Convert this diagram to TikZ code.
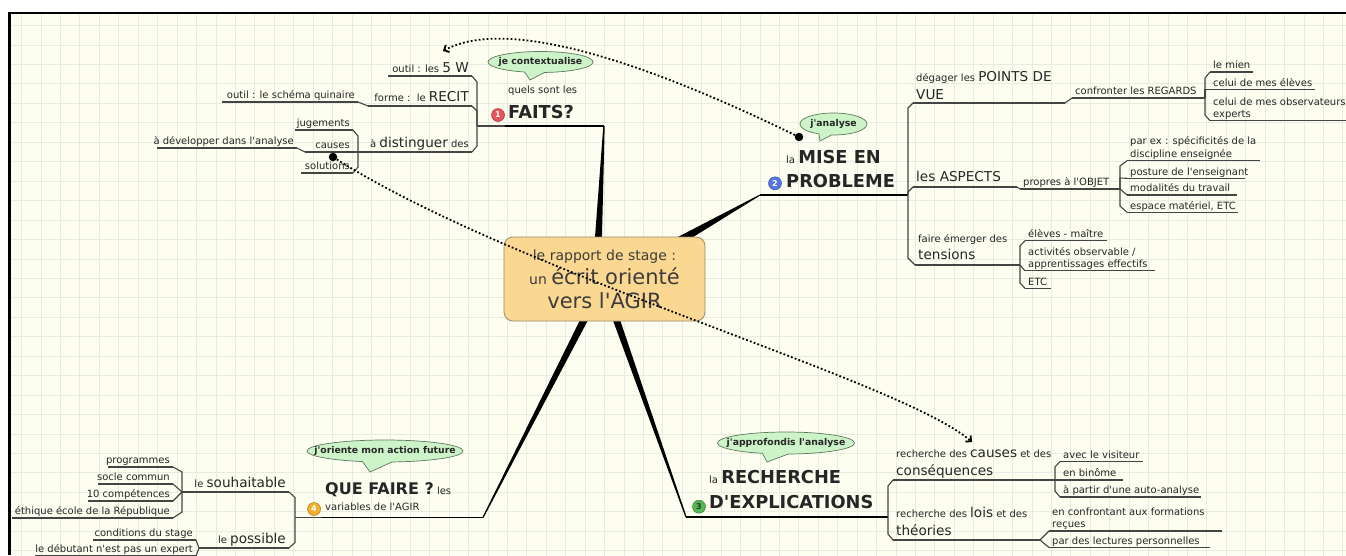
\documentclass[tikz,border=0pt]{standalone}
\usepackage{fontspec}
\newfontfamily\mapfont{DejaVu Sans}
\usetikzlibrary{arrows.meta,calc,positioning,shapes.callouts}

\definecolor{paper}{HTML}{FDFDF0}
\definecolor{gridc}{HTML}{E6ECDF}
\definecolor{ink}{HTML}{262626}
\definecolor{linec}{HTML}{444444}
\definecolor{hubfill}{HTML}{FBD892}
\definecolor{hubline}{HTML}{9C8A6A}
\definecolor{bubfill}{HTML}{CDF3C8}
\definecolor{bubline}{HTML}{5E7A5E}
\definecolor{badgered}{HTML}{E8545A}
\definecolor{badgeblue}{HTML}{5676E0}
\definecolor{badgegreen}{HTML}{52B852}
\definecolor{badgeorange}{HTML}{F4AE2A}

\newcommand\mmfont[2]{\mapfont\fontsize{#1}{#2}\selectfont}
\newcommand\szm{\fontsize{13.6}{17}\selectfont}
\newcommand\szl{\fontsize{17.8}{24}\selectfont\bfseries}
\newcommand\szh{\fontsize{21}{24}\selectfont}
\newcommand\ulgap[1]{\vrule width 0pt height 0pt depth #1pt\relax}

\tikzset{
  gridline/.style={draw=gridc, line width=1pt},
  sub/.style={inner xsep=3pt, inner ysep=0pt, text=ink, font=\mmfont{10}{12}, text depth=3pt},
  subr/.style={sub, anchor=south east},
  subl/.style={sub, anchor=south west},
  subm/.style={inner xsep=3pt, inner ysep=0pt, text=ink, font=\mmfont{10}{12.3}, align=left, anchor=south west},
  uline/.style={draw=linec, line width=1.1pt},
  link/.style={draw=linec, line width=1.1pt},
  topicline/.style={draw=black, line width=1.3pt},
  wedge/.style={fill=black},
  hub/.style={rounded corners=9pt, draw=hubline, fill=hubfill, line width=0.8pt,
    minimum width=201pt, minimum height=84pt, inner sep=0pt, align=center,
    text=ink!90, font=\mmfont{14}{24}},
  bubble/.style={ellipse callout, draw=bubline, fill=bubfill, line width=0.7pt,
    inner sep=0pt, minimum height=21pt, callout pointer arc=22,
    font=\mmfont{9.3}{11}\bfseries, text=ink},
  badge/.style={circle, inner sep=0pt, minimum size=13pt, line width=0.5pt, font=\mmfont{8}{9}\bfseries},
  dotmark/.style={circle, fill=black, inner sep=0pt, minimum size=8.5pt},
  rel/.style={line width=1.8pt, dash pattern=on 1.8pt off 2.2pt,
    -{Straight Barb[length=4pt,width=8pt]}},
}

\begin{document}
\begin{tikzpicture}[x=1pt,y=-1pt]
\useasboundingbox (0,0) rectangle (1346,555);
\clip (0,0) rectangle (1346,555);

% paper and grid
\fill[white] (0,0) rectangle (1346,555);
\fill[paper] (9.5,12.8) rectangle (1346,555);
\foreach \i in {0,...,68}
  \draw[gridline] ({21.7+19.43*\i},12.8) -- ++(0,543);
\foreach \j in {0,...,27}
  \draw[gridline] (9.5,{25.6+19.45*\j}) -- ++(1337,0);
\draw[line width=2.4pt] (9.5,555) -- (9.5,12.8) -- (1346,12.8);

% topics
\node[subm, font=\mmfont{10}{25}] (f1) at (505,126) {quels sont les\\{\szl FAITS?}\ulgap{7.5}};
\node[subm, font=\mmfont{10}{24}] (p2) at (783,195) {la {\szl MISE EN}\\{\szl PROBLEME}\ulgap{7}};
\node[subm, font=\mmfont{10}{25}] (r3) at (706,517) {la {\szl RECHERCHE}\\{\szl D'EXPLICATIONS}\ulgap{8}};
\node[subm, font=\mmfont{10}{15.5}] (q4) at (322,517.5) {{\fontsize{16}{18}\selectfont\bfseries QUE FAIRE ?} les\\variables de l'AGIR\ulgap{7}};

% branch 1
\node[subr] (w5) at (472,76) {outil : les {\szm 5 W}};
\node[subr, text depth=4pt] (recit) at (472,106) {forme :~~le {\szm RECIT}};
\node[subr] (quin) at (358,102) {outil : le schéma quinaire};
\node[subr, text depth=4pt] (dist) at (472,152) {à {\szm distinguer} des};
\node[subr] (jug) at (353,130) {jugements};
\node[subr] (cau) at (353,152) {causes};
\node[subr] (sol) at (353,173) {solutions};
\node[subr] (dev) at (297,148) {à développer dans l'analyse};

% branch 2
\node[subm, font=\mmfont{10}{17.6}] (pdv) at (913,103) {dégager les {\szm POINTS DE}\\{\szm VUE}\ulgap{3.4}};
\node[subl, text depth=5pt, font=\mmfont{13.6}{17}] (asp) at (913,187) {les ASPECTS};
\node[subm, font=\mmfont{10}{17}] (ten) at (915,265) {faire émerger des\\{\szm tensions}\ulgap{5}};
\node[subl] (regards) at (1072,98) {confronter les REGARDS};
\node[subl] (mien) at (1210,72) {le mien};
\node[subl] (eleves) at (1210,89.5) {celui de mes élèves};
\node[subm] (expe) at (1210,120.7) {celui de mes observateurs\\experts\ulgap{3}};
\node[subl] (objet) at (1020,189) {propres à l'OBJET};
\node[subm] (spec) at (1127,160.7) {par ex : spécificités de la\\discipline enseignée\ulgap{3.5}};
\node[subl] (post) at (1127,178.3) {posture de l'enseignant};
\node[subl] (moda) at (1127,195) {modalités du travail};
\node[subl] (espa) at (1127,212.3) {espace matériel, ETC};
\node[subl] (elev) at (1025,240.7) {élèves - maître};
\node[subm] (acti) at (1025,270.7) {activités observable /\\apprentissages effectifs\ulgap{3}};
\node[subl] (etc2) at (1025,288.3) {ETC};

% branch 3
\node[subm, font=\mmfont{10}{18}] (caus) at (893,480) {recherche des {\szm causes} et des\\{\szm conséquences}\ulgap{4}};
\node[subm, font=\mmfont{10}{18}] (lois) at (893,540) {recherche des {\szm lois} et des\\{\szm théories}\ulgap{4}};
\node[subl] (visit) at (1060,461.5) {avec le visiteur};
\node[subl] (bino) at (1060,480) {en binôme};
\node[subl] (auto) at (1060,497) {à partir d'une auto-analyse};
\node[subm] (conf) at (1049,531) {en confrontant aux formations\\reçues\ulgap{3}};
\node[subl] (lect) at (1049,547.5) {par des lectures personnelles};

% branch 4
\node[subr, text depth=4pt] (souh) at (289,492) {le {\szm souhaitable}};
\node[subr, text depth=4pt] (poss) at (289,548) {le {\szm possible}};
\node[subr] (prog) at (173,467) {programmes};
\node[subr] (socle) at (173,484) {socle commun};
\node[subr] (comp) at (173,501) {10 compétences};
\node[subr] (ethi) at (173,518) {éthique école de la République};
\node[subr] (cond) at (196,540) {conditions du stage};
\node[subr] (debu) at (196,556) {le débutant n'est pas un expert};

% underlines
\foreach \n/\l in {w5/84,recit/104,quin/136,dist/114,jug/58,cau/48,sol/52,dev/140,
    souh/107,poss/90,prog/65,socle/75,comp/85,ethi/161,cond/103,debu/161}
  \draw[uline] (\n.south east) -- ++(-\l,0) coordinate (\n-w);
\foreach \n/\l in {pdv/152,asp/104,ten/105,regards/133,mien/43,eleves/105,expe/140,
    objet/100,spec/133,post/118,moda/110,espa/111,elev/82,acti/130,etc2/26,
    caus/162,lois/147,visit/83,bino/63,auto/141,conf/173,lect/161}
  \draw[uline] (\n.south west) -- ++(\l,0) coordinate (\n-e);
\foreach \n/\l in {f1/99,p2/125,r3/182,q4/161}
  \draw[topicline] (\n.south west) -- ++(\l,0) coordinate (\n-e);

% wedges from the centre
\coordinate (hc) at (604.5,279);
\coordinate (w2) at (760,195);
\coordinate (w3) at (686,517);
\draw[topicline] (w2) -- (p2.south west);
\draw[topicline] (w3) -- (r3.south west);
\fill[wedge] ($(f1-e)+(-0.7,0)$) -- ($(f1-e)+(0.7,0)$) -- ($(hc)+(-3.6,0)$) -- ($(hc)+(-12.6,0)$) -- cycle;
\fill[wedge] ($(w2)+(0.25,0.43)$) -- ($(w2)+(-0.25,-0.43)$) -- ($(hc)+(4,-6.1)$) -- ($(hc)+(11,6.1)$) -- cycle;
\fill[wedge] ($(w3)+(0.57,-0.2)$) -- ($(w3)+(-0.57,0.2)$) -- ($(hc)+(-6.3,1.3)$) -- ($(hc)+(1.3,-1.3)$) -- cycle;
\fill[wedge] ($(q4-e)+(0.53,0.27)$) -- ($(q4-e)+(-0.53,-0.27)$) -- ($(hc)+(-3.24,-1.91)$) -- ($(hc)+(4.24,1.91)$) -- cycle;

\node[hub] (ctr) at (hc) {le rapport de stage :\\un {\szh écrit orienté}\\{\szh vers l'AGIR}};

% branch 1 links
\draw[link] (f1.south west) -- ++(-28,0) coordinate (k1);
\draw[link] (k1) -- ++(0,-44) -- (w5.south east);
\draw[link] (k1) -- ++(0,-15) -- (recit.south east);
\draw[link] (k1) -- ++(0,20) -- (dist.south east);
\draw[link] (recit-w) -- (quin.south east);
\draw[link] (dist-w) -- ++(0,-16) -- (jug.south east);
\draw[link] (dist-w) -- (cau.south east);
\draw[link] (dist-w) -- ++(0,15) -- (sol.south east);
\draw[link] (cau-w) -- (dev.south east);

% branch 2 links
\draw[link] (p2-e) -- ++(0,-87) -- (pdv.south west);
\draw[link] (p2-e) -- ++(0,-3) -- (asp.south west);
\draw[link] (p2-e) -- ++(0,63) -- (ten.south west);
\draw[link] (pdv-e) -- (regards.south west);
\draw[link] (regards-e) -- ++(0,-20) -- (mien.south west);
\draw[link] (regards-e) -- ++(0,-8.5) -- (eleves.south west);
\draw[link] (regards-e) -- ++(0,17) -- (expe.south west);
\draw[link] (asp-e) -- (objet.south west);
\draw[link] (objet-e) -- ++(0,-23) -- (spec.south west);
\draw[link] (objet-e) -- ++(0,-11) -- (post.south west);
\draw[link] (objet-e) -- (moda.south west);
\draw[link] (objet-e) -- ++(0,17) -- (espa.south west);
\draw[link] (ten-e) -- ++(0,-19) -- (elev.south west);
\draw[link] (ten-e) -- (acti.south west);
\draw[link] (ten-e) -- ++(0,18) -- (etc2.south west);

% branch 3 links
\draw[link] (r3-e) -- ++(0,-31) -- (caus.south west);
\draw[link] (r3-e) -- ++(0,17) -- (lois.south west);
\draw[link] (caus-e) -- ++(0,-13) -- (visit.south west);
\draw[link] (caus-e) -- (bino.south west);
\draw[link] (caus-e) -- ++(0,11) -- (auto.south west);
\draw[link] (lois-e) -- (conf.south west);
\draw[link] (lois-e) -- (lect.south west);

% branch 4 links
\draw[link] (q4.south west) -- ++(-27,0) coordinate (k4);
\draw[link] (k4) -- ++(0,-20) -- (souh.south east);
\draw[link] (k4) -- ++(0,25) -- (poss.south east);
\draw[link] (souh-w) -- ++(0,-20) -- (prog.south east);
\draw[link] (souh-w) -- (socle.south east);
\draw[link] (souh-w) -- (comp.south east);
\draw[link] (souh-w) -- ++(0,20) -- (ethi.south east);
\draw[link] (poss-w) -- (cond.south east);
\draw[link] (poss-w) -- (debu.south east);

% callouts
\node[bubble, minimum width=105pt, callout absolute pointer={(530,80)}] (cb1) at (540.5,62) {\makebox[0pt]{je contextualise}};
\node[bubble, minimum width=67pt, minimum height=22pt, callout absolute pointer={(820,141)}] (cb2) at (833.5,124) {\makebox[0pt]{j'analyse}};
\node[bubble, minimum width=137pt, minimum height=22pt, callout absolute pointer={(767,462)}] (cb3) at (786,443) {\makebox[0pt]{j'approfondis l'analyse}};
\node[bubble, minimum width=156pt, minimum height=22pt, callout absolute pointer={(370,472)}] (cb4) at (385,451) {\makebox[0pt]{j'oriente mon action future}};

% badges
\node[badge, fill=badgered, draw=badgered!70!black, text=white] (i1) at (498,115) {1};
\node[badge, fill=badgeblue, draw=badgeblue!70!black, text=white] (i2) at (775,183.3) {2};
\node[badge, fill=badgegreen, draw=badgegreen!70!black, text=black!80] (i3) at (699,506.7) {3};
\node[badge, fill=badgeorange, draw=badgeorange!70!black, text=white] (i4) at (314,509) {4};

% relationships
\node[dotmark] (d1) at (799,137) {};
\node[dotmark] (d2) at (333,157) {};
\coordinate (a1) at (443,51);
\coordinate (a2) at (972,442);
\draw[rel] (d1) .. controls (620,50) and (500,20) .. (a1);
\draw[rel] (d2) .. controls (520,275) and (900,380) .. (a2);
\end{tikzpicture}
\end{document}
